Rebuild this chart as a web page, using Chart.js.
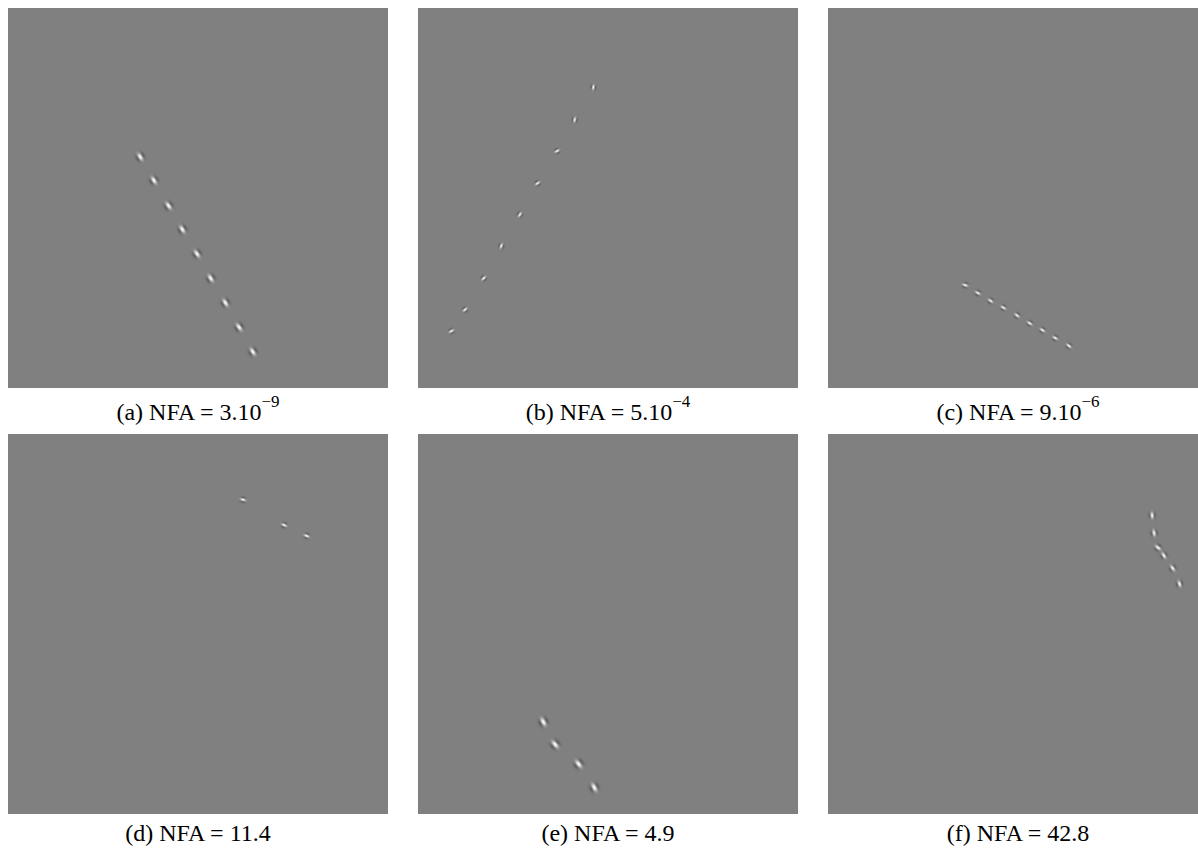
<!DOCTYPE html>
<html>
<head>
<meta charset="utf-8">
<script src="https://cdn.jsdelivr.net/npm/chart.js@4"></script>
<style>
  html, body { margin: 0; padding: 0; background: #fff; }
  #page { position: relative; width: 1198px; height: 854px; overflow: hidden; }
  .panel { position: absolute; width: 380px; height: 380px; background: #808080; }
  .panel canvas { display: block; }
  .caption {
    position: absolute; width: 380px; text-align: center;
    font-family: "Liberation Serif", "DejaVu Serif", serif; font-size: 24px;
    line-height: 26px; color: #000;
  }
  .caption sup { font-size: 17px; position: relative; top: -4px; line-height: 0; }
</style>
</head>
<body>
<div id="page"></div>
<script>
// blob centres in panel pixels (0..380), orientation in degrees
const aX = [131, 145, 160, 174, 189, 203, 218, 232, 246];
const aY = [148, 172, 198, 222, 247, 272, 297, 322, 347];
const aRot = [58, 58, 55, 58, 55, 58, 58, 55, 58];

const bX = [175, 156, 138, 118, 100, 81, 63, 44, 30];
const bY = [77, 110, 142, 175, 207, 239, 272, 304, 326];
const bRot = [-80, -78, -30, -35, -55, -70, -45, -40, -30];

const cX = [136, 149, 162, 175, 189, 202, 215, 228, 242];
const cY = [279, 287, 295, 302, 310, 318, 325, 333, 341];
const cRot = [20, 30, 35, 30, 38, 35, 35, 30, 38];

const dX = [236, 278, 301];
const dY = [63, 89, 100];
const dRot = [15, 25, 20];

const eX = [124, 136, 160, 176];
const eY = [290, 313, 333, 357];
const eRot = [62, 50, 52, 62];

const fX = [327, 329, 333, 339, 348, 355];
const fY = [79, 97, 112, 120, 133, 149];
const fRot = [85, 80, 40, 58, 55, 72];

const captions = ["(a) NFA = 3.10", "(b) NFA = 5.10", "(c) NFA = 9.10",
                  "(d) NFA = 11.4", "(e) NFA = 4.9", "(f) NFA = 42.8"];
const exponents = ["−9", "−4", "−6", "", "", ""];

// gabor-like sprite, long axis along x
function makeBlob(s) {
  const sx = 2.0 * s, sy = 1.55 * s, lam = 7.6 * s;
  const r = Math.ceil(4 * sx);
  const size = 2 * r + 1;
  const c = document.createElement("canvas");
  c.width = size; c.height = size;
  const g = c.getContext("2d");
  const img = g.createImageData(size, size);
  for (let j = 0; j < size; j++) {
    for (let i = 0; i < size; i++) {
      const u = i - r, v = j - r;
      const val = Math.exp(-(u * u) / (2 * sx * sx) - (v * v) / (2 * sy * sy)) *
                  Math.cos(2 * Math.PI * v / lam);
      const k = (j * size + i) * 4;
      if (val > 0) {
        img.data[k] = img.data[k + 1] = img.data[k + 2] = 255;
        img.data[k + 3] = Math.round(Math.min(1, val * 1.1) * 255);
      } else {
        img.data[k] = img.data[k + 1] = img.data[k + 2] = 0;
        img.data[k + 3] = Math.round(Math.min(1, -val * 2.2) * 255);
      }
    }
  }
  g.putImageData(img, 0, 0);
  return c;
}

const panels = [
  { xs: aX, ys: aY, rot: aRot, left: 8, top: 8, s: 1.25 },
  { xs: bX, ys: bY, rot: bRot, left: 418, top: 8, s: 0.8 },
  { xs: cX, ys: cY, rot: cRot, left: 828, top: 8, s: 0.85 },
  { xs: dX, ys: dY, rot: dRot, left: 8, top: 434, s: 0.85 },
  { xs: eX, ys: eY, rot: eRot, left: 418, top: 434, s: 1.35 },
  { xs: fX, ys: fY, rot: fRot, left: 828, top: 434, s: 1.0 },
];

const page = document.getElementById("page");

panels.forEach((p, idx) => {
  const box = document.createElement("div");
  box.className = "panel";
  box.style.left = p.left + "px";
  box.style.top = p.top + "px";
  const cv = document.createElement("canvas");
  cv.width = 380; cv.height = 380;
  box.appendChild(cv);
  page.appendChild(box);

  const cap = document.createElement("div");
  cap.className = "caption";
  cap.style.left = p.left + "px";
  cap.style.top = (p.top + (idx < 3 ? 391 : 386)) + "px";
  cap.textContent = captions[idx];
  if (exponents[idx]) {
    const sup = document.createElement("sup");
    sup.textContent = exponents[idx];
    cap.appendChild(sup);
  }
  page.appendChild(cap);

  new Chart(cv, {
    type: "scatter",
    data: {
      datasets: [{
        data: p.xs.map((x, i) => ({ x: x, y: p.ys[i] })),
        pointStyle: makeBlob(p.s),
        pointRotation: p.rot,
        pointRadius: 3,
        pointHoverRadius: 3,
      }],
    },
    options: {
      responsive: false,
      animation: false,
      events: [],
      layout: { padding: 0 },
      plugins: { legend: { display: false }, tooltip: { enabled: false } },
      scales: {
        x: { type: "linear", min: 0, max: 380, display: false },
        y: { type: "linear", min: 0, max: 380, reverse: true, display: false },
      },
    },
  });
});
</script>
</body>
</html>
